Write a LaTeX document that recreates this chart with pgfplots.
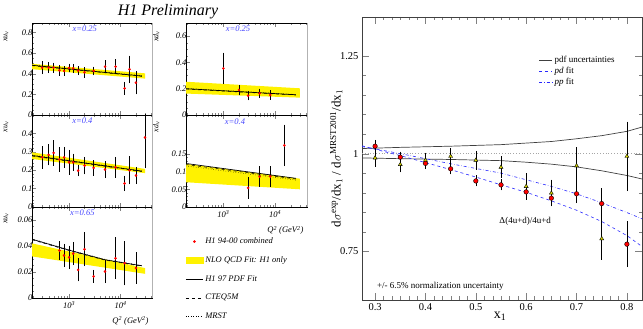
\documentclass[border=0pt]{standalone}
\usepackage{fontspec}
\setmainfont{Liberation Serif}
\usepackage{pgfplots}
\pgfplotsset{compat=1.18}
\definecolor{lblue}{RGB}{70,70,255}
\definecolor{triy}{RGB}{220,220,0}
\definecolor{fitblue}{RGB}{40,40,255}
\begin{document}
\begin{tikzpicture}
\useasboundingbox (0pt,0pt) rectangle (643pt,329pt);
% ---------------- panel 1: xu_v, x=0.25
\begin{axis}[at={(32pt,214pt)}, anchor=south west, scale only axis, width=120pt, height=92pt,
    xmode=log, xmin=190, xmax=41000,
    xtick={1000,10000}, xticklabels={},
    minor xtick={200,300,400,500,600,700,800,900,2000,3000,4000,5000,6000,7000,8000,9000,20000,30000,40000},
    tick align=inside, ytick pos=left,
    major tick length=4pt, minor tick length=2pt,
    scaled y ticks=false,
    /pgf/number format/assume math mode=true,
    yticklabel style={/pgf/number format/fixed, /pgf/number format/precision=2, xshift=4pt},
    tick label style={font=\fontsize{8.5}{10}\selectfont\itshape},
    ylabel style={at={(axis description cs:-0.167,0.95)}, anchor=south east},
    ylabel={\fontsize{8}{10}\selectfont\itshape xu\textsubscript{v}},
    ymin=0, ymax=0.89, ytick={0,0.2,0.4,0.6,0.8}, minor y tick num=3]
\addplot[fill=yellow, draw=none] coordinates {(190,0.443) (30000,0.352) (30000,0.403) (190,0.495) (190,0.443)};
\addplot[black, line width=0.7pt] coordinates {(190,0.481) (26000,0.377)};
\addplot[black, dashed, line width=0.5pt] coordinates {(190,0.477) (26000,0.374)};
\addplot[black, dotted, line width=0.5pt] coordinates {(190,0.485) (26000,0.380)};
\addplot[only marks, mark=*, mark size=1.1pt, red,
    error bars/.cd, y dir=both, y explicit,
    error bar style={black, line width=0.5pt},
    error mark options={black, mark size=1.3pt, line width=0.5pt}] coordinates {
(300,0.458) +- (0,0.05)
(400,0.458) +- (0,0.04)
(500,0.458) +- (0,0.035)
(650,0.432) +- (0,0.04)
(800,0.426) +- (0,0.035)
(1000,0.455) +- (0,0.03)
(1200,0.452) +- (0,0.03)
(1500,0.429) +- (0,0.03)
(2000,0.413) +- (0,0.04)
(3000,0.426) +- (0,0.03)
(5000,0.468) +- (0,0.05)
(8000,0.468) +- (0,0.06)
(12000,0.258) +- (0,0.05)
(15000,0.442) +- (0,0.12)
(20000,0.313) +- (0,0.10)
};
\node[font=\fontsize{8.5}{10}\selectfont\itshape, text=lblue] at (rel axis cs:0.44,0.94) {x=0.25};
\end{axis}
% ---------------- panel 2: xu_v, x=0.4
\begin{axis}[at={(32pt,122pt)}, anchor=south west, scale only axis, width=120pt, height=92pt,
    xmode=log, xmin=190, xmax=41000,
    xtick={1000,10000}, xticklabels={},
    minor xtick={200,300,400,500,600,700,800,900,2000,3000,4000,5000,6000,7000,8000,9000,20000,30000,40000},
    tick align=inside, ytick pos=left,
    major tick length=4pt, minor tick length=2pt,
    scaled y ticks=false,
    /pgf/number format/assume math mode=true,
    yticklabel style={/pgf/number format/fixed, /pgf/number format/precision=2, xshift=4pt},
    tick label style={font=\fontsize{8.5}{10}\selectfont\itshape},
    ylabel style={at={(axis description cs:-0.167,0.97)}, anchor=south east},
    ylabel={\fontsize{8}{10}\selectfont\itshape xu\textsubscript{v}},
    ymin=0, ymax=0.5, ytick={0,0.1,0.2,0.3,0.4}, minor y tick num=4]
\addplot[fill=yellow, draw=none] coordinates {(190,0.261) (30000,0.184) (30000,0.207) (190,0.297) (190,0.261)};
\addplot[black, line width=0.7pt] coordinates {(190,0.280) (26000,0.195)};
\addplot[black, dashed, line width=0.5pt] coordinates {(190,0.277) (26000,0.193)};
\addplot[black, dotted, line width=0.5pt] coordinates {(190,0.283) (26000,0.197)};
\addplot[only marks, mark=*, mark size=1.1pt, red,
    error bars/.cd, y dir=both, y explicit,
    error bar style={black, line width=0.5pt},
    error mark options={black, mark size=1.3pt, line width=0.5pt}] coordinates {
(300,0.270) +- (0,0.054)
(400,0.283) +- (0,0.05)
(500,0.294) +- (0,0.063)
(650,0.258) +- (0,0.06)
(800,0.270) +- (0,0.05)
(1000,0.243) +- (0,0.06)
(1200,0.243) +- (0,0.04)
(1500,0.198) +- (0,0.025)
(2000,0.225) +- (0,0.04)
(3000,0.213) +- (0,0.035)
(5000,0.204) +- (0,0.04)
(8000,0.216) +- (0,0.05)
(12000,0.128) +- (0,0.035)
(15000,0.200) +- (0,0.07)
(20000,0.171) +- (0,0.04)
(30000,0.378) +- (0,0.16)
};
\node[font=\fontsize{8.5}{10}\selectfont\itshape, text=lblue] at (rel axis cs:0.42,0.94) {x=0.4};
\end{axis}
% ---------------- panel 3: xu_v, x=0.65
\begin{axis}[at={(32pt,31pt)}, anchor=south west, scale only axis, width=120pt, height=91pt,
    xmode=log, xmin=190, xmax=41000,
    xtick={1000,10000}, xticklabels={{10\textsuperscript{3}},{10\textsuperscript{4}}},
    minor xtick={200,300,400,500,600,700,800,900,2000,3000,4000,5000,6000,7000,8000,9000,20000,30000,40000},
    tick align=inside, ytick pos=left,
    major tick length=4pt, minor tick length=2pt,
    scaled y ticks=false,
    /pgf/number format/assume math mode=true,
    yticklabel style={/pgf/number format/fixed, /pgf/number format/precision=2, xshift=4pt},
    tick label style={font=\fontsize{8.5}{10}\selectfont\itshape},
    ylabel style={at={(axis description cs:-0.167,0.97)}, anchor=south east},
    ylabel={\fontsize{8}{10}\selectfont\itshape xu\textsubscript{v}},
    xlabel style={at={(axis description cs:1,-0.17)}, anchor=north east},
    xlabel={\fontsize{8.5}{10}\selectfont\itshape Q\textsuperscript{2} (GeV\textsuperscript{2})},
    ymin=0, ymax=0.07, ytick={0,0.02,0.04,0.06}, minor y tick num=3]
\addplot[fill=yellow, draw=none] coordinates {(190,0.032) (30000,0.0186) (30000,0.023) (190,0.042) (190,0.032)};
\addplot[black, line width=0.7pt] coordinates {(190,0.0452) (1000,0.0368) (5000,0.0294) (26000,0.0248)};
\addplot[black, dashed, line width=0.5pt] coordinates {(190,0.0448) (1000,0.0365) (5000,0.0291) (26000,0.0245)};
\addplot[black, dotted, line width=0.5pt] coordinates {(190,0.0456) (1000,0.0371) (5000,0.0297) (26000,0.0251)};
\addplot[only marks, mark=*, mark size=1.1pt, red,
    error bars/.cd, y dir=both, y explicit,
    error bar style={black, line width=0.5pt},
    error mark options={black, mark size=1.3pt, line width=0.5pt}] coordinates {
(650,0.0365) +- (0,0.006)
(800,0.0327) +- (0,0.008)
(1000,0.0312) +- (0,0.008)
(1200,0.0342) +- (0,0.008)
(1500,0.0217) +- (0,0.008)
(2000,0.0375) +- (0,0.012)
(3000,0.0166) +- (0,0.004)
(5000,0.0204) +- (0,0.008)
(8000,0.0306) +- (0,0.015)
(12000,0.0268) +- (0,0.016)
(20000,0.0230) +- (0,0.011)
};
\node[font=\fontsize{8.5}{10}\selectfont\itshape, text=lblue] at (rel axis cs:0.42,0.94) {x=0.65};
\end{axis}
% ---------------- panel 4: xd_v, x=0.25
\begin{axis}[at={(186pt,214pt)}, anchor=south west, scale only axis, width=121pt, height=92pt,
    xmode=log, xmin=190, xmax=41000,
    xtick={1000,10000}, xticklabels={},
    minor xtick={200,300,400,500,600,700,800,900,2000,3000,4000,5000,6000,7000,8000,9000,20000,30000,40000},
    tick align=inside, ytick pos=left,
    major tick length=4pt, minor tick length=2pt,
    scaled y ticks=false,
    /pgf/number format/assume math mode=true,
    yticklabel style={/pgf/number format/fixed, /pgf/number format/precision=2, xshift=4pt},
    tick label style={font=\fontsize{8.5}{10}\selectfont\itshape},
    ylabel style={at={(axis description cs:-0.19,0.95)}, anchor=south east},
    ylabel={\fontsize{8}{10}\selectfont\itshape xd\textsubscript{v}},
    ymin=0, ymax=0.7, ytick={0,0.2,0.4,0.6}, minor y tick num=3]
\addplot[fill=yellow, draw=none] coordinates {(190,0.163) (30000,0.132) (30000,0.203) (190,0.253) (190,0.163)};
\addplot[black, line width=0.7pt] coordinates {(190,0.200) (25000,0.154)};
\addplot[black, dashed, line width=0.5pt] coordinates {(190,0.197) (25000,0.152)};
\addplot[black, dotted, line width=0.5pt] coordinates {(190,0.203) (25000,0.156)};
\addplot[only marks, mark=*, mark size=1.1pt, red,
    error bars/.cd, y dir=both, y explicit,
    error bar style={black, line width=0.5pt},
    error mark options={black, mark size=1.3pt, line width=0.5pt}] coordinates {
(1000,0.354) +- (0,0.11)
(2000,0.190) +- (0,0.03)
(3000,0.147) +- (0,0.025)
(5000,0.165) +- (0,0.025)
(8000,0.152) +- (0,0.025)
};
\node[font=\fontsize{8.5}{10}\selectfont\itshape, text=lblue] at (rel axis cs:0.43,0.94) {x=0.25};
\end{axis}
% ---------------- panel 5: xd_v, x=0.4
\begin{axis}[at={(186pt,122pt)}, anchor=south west, scale only axis, width=121pt, height=92pt,
    xmode=log, xmin=190, xmax=41000,
    xtick={1000,10000}, xticklabels={{10\textsuperscript{3}},{10\textsuperscript{4}}},
    minor xtick={200,300,400,500,600,700,800,900,2000,3000,4000,5000,6000,7000,8000,9000,20000,30000,40000},
    tick align=inside, ytick pos=left,
    major tick length=4pt, minor tick length=2pt,
    scaled y ticks=false,
    /pgf/number format/assume math mode=true,
    yticklabel style={/pgf/number format/fixed, /pgf/number format/precision=2, xshift=4pt},
    tick label style={font=\fontsize{8.5}{10}\selectfont\itshape},
    ylabel style={at={(axis description cs:-0.19,0.97)}, anchor=south east},
    ylabel={\fontsize{8}{10}\selectfont\itshape xd\textsubscript{v}},
    xlabel style={at={(axis description cs:1,-0.17)}, anchor=north east},
    xlabel={\fontsize{8.5}{10}\selectfont\itshape Q\textsuperscript{2} (GeV\textsuperscript{2})},
    ymin=0, ymax=0.26, ytick={0,0.05,0.1,0.15}, minor y tick num=4,
    legend style={at={(axis description cs:-0.03,-0.29)}, anchor=north west, draw=none, fill=none,
      font=\fontsize{8.5}{10}\selectfont\itshape, row sep=7.5pt},
    legend cell align=left]
\addplot[fill=yellow, draw=none, forget plot] coordinates {(190,0.070) (30000,0.050) (30000,0.080) (190,0.122) (190,0.070)};
\addplot[black, line width=0.7pt, forget plot] coordinates {(190,0.123) (25000,0.081)};
\addplot[black, dashed, line width=0.5pt, forget plot] coordinates {(190,0.120) (25000,0.079)};
\addplot[black, dotted, line width=0.5pt, forget plot] coordinates {(190,0.116) (25000,0.076)};
\addplot[only marks, mark=*, mark size=1.1pt, red, forget plot,
    error bars/.cd, y dir=both, y explicit,
    error bar style={black, line width=0.5pt},
    error mark options={black, mark size=1.3pt, line width=0.5pt}] coordinates {
(3000,0.054) +- (0,0.027)
(5000,0.086) +- (0,0.025)
(8000,0.086) +- (0,0.025)
(15000,0.174) +- (0,0.055)
};
\node[font=\fontsize{8.5}{10}\selectfont\itshape, text=lblue] at (rel axis cs:0.405,0.93) {x=0.4};
\addlegendimage{only marks, mark=*, mark size=1.1pt, red}
\addlegendentry{H1 94-00 combined}
\addlegendimage{area legend, fill=yellow, draw=yellow}
\addlegendentry{NLO QCD Fit: H1 only}
\addlegendimage{black, line width=0.7pt}
\addlegendentry{H1 97 PDF Fit}
\addlegendimage{black, dashed, line width=0.5pt}
\addlegendentry{CTEQ5M}
\addlegendimage{black, dotted, line width=0.5pt}
\addlegendentry{MRST}
\end{axis}
\draw[gray!60, line width=1.3pt] (152.6pt,31pt) -- (152.6pt,306pt);
\draw[gray!60, line width=1.3pt] (307.6pt,122pt) -- (307.6pt,306pt);
\node[font=\fontsize{16}{18}\selectfont\itshape] at (168pt,317pt) {H1 Preliminary};
% ---------------- right plot
\begin{axis}[scale only axis, width=280pt, height=283pt, at={(362pt,29pt)}, anchor=south west,
  xmin=0.274, xmax=0.83, ymin=0.625, ymax=1.35,
  xtick={0.3,0.4,0.5,0.6,0.7,0.8}, ytick={0.75,1,1.25},
  minor x tick num=5, minor y tick num=4,
  tick align=inside,
  major tick length=7pt, minor tick length=3.5pt,
  axis line style={black!75, line width=0.8pt},
  /pgf/number format/assume math mode=true,
  tick label style={font=\fontsize{10.5}{12}\selectfont},
  xlabel style={at={(axis description cs:0.493,-0.03)}, anchor=north},
  xlabel={\fontsize{14}{16}\selectfont x\textsubscript{1}},
  ylabel style={at={(axis description cs:-0.092,0.5)}, anchor=center},
  ylabel={\fontsize{13}{15}\selectfont d$\sigma^{\mathrm{exp}}$/dx$_1$ / d$\sigma^{\mathrm{MRST2001}}$/dx$_1$},
  legend style={at={(axis description cs:0.62,0.875)}, anchor=north west, draw=none, fill=none,
    font=\fontsize{9}{10}\selectfont, row sep=-1pt},
  legend cell align=left,
  legend image code/.code={\draw[#1] (0pt,0pt) -- (13pt,0pt);},
]
\addplot[gray!70, dotted, line width=0.8pt, forget plot] coordinates {(0.274,1) (0.83,1)};
\addplot[black!75, line width=0.7pt, forget plot] coordinates {(0.274,1.013) (0.35,1.016) (0.45,1.019) (0.55,1.023) (0.6,1.027) (0.65,1.031) (0.7,1.038) (0.75,1.046) (0.8,1.057) (0.83,1.068)};
\addplot[black!75, line width=0.7pt, forget plot] coordinates {(0.274,0.989) (0.35,0.987) (0.45,0.985) (0.55,0.982) (0.6,0.978) (0.65,0.973) (0.7,0.966) (0.75,0.956) (0.8,0.944) (0.83,0.935)};
\addplot[fitblue, dashed, line width=0.6pt, forget plot] coordinates {(0.274,1.020) (0.3,1.011) (0.35,0.995) (0.4,0.977) (0.45,0.959) (0.5,0.940) (0.55,0.920) (0.6,0.901) (0.65,0.879) (0.7,0.855) (0.75,0.826) (0.8,0.790) (0.83,0.762)};
\addplot[fitblue, dash dot, line width=0.6pt, forget plot] coordinates {(0.274,1.018) (0.3,1.012) (0.35,1.000) (0.4,0.987) (0.45,0.974) (0.5,0.962) (0.55,0.950) (0.6,0.933) (0.65,0.916) (0.7,0.897) (0.75,0.874) (0.8,0.849) (0.83,0.833)};
\addplot[only marks, mark=triangle*, mark size=2.3pt, mark options={fill=triy, draw=black, line width=0.4pt}, forget plot,
  error bars/.cd, y dir=both, y explicit,
  error bar style={black, line width=0.6pt},
  error mark options={black, mark size=1.6pt, line width=0.6pt}] coordinates {
(0.3,0.989) +- (0,0.018)
(0.35,0.972) +- (0,0.016)
(0.4,0.983) +- (0,0.015)
(0.45,0.993) +- (0,0.017)
(0.5,0.983) +- (0,0.02)
(0.55,0.965) +- (0,0.024)
(0.6,0.916) +- (0,0.03)
(0.65,0.899) +- (0,0.03)
(0.7,0.969) +- (0,0.043)
(0.75,0.782) +- (0,0.05)
(0.8,0.993) +- (0,0.085)
};
\addplot[only marks, mark=*, mark size=2.3pt, mark options={fill=red, draw=black, line width=0.4pt}, forget plot,
  error bars/.cd, y dir=both, y explicit,
  error bar style={black, line width=0.6pt},
  error mark options={black, mark size=1.6pt, line width=0.6pt}] coordinates {
(0.3,1.019) +- (0,0.012)
(0.35,0.991) +- (0,0.01)
(0.4,0.975) +- (0,0.01)
(0.45,0.961) +- (0,0.01)
(0.5,0.930) +- (0,0.01)
(0.55,0.920) +- (0,0.01)
(0.6,0.902) +- (0,0.012)
(0.65,0.886) +- (0,0.015)
(0.7,0.897) +- (0,0.02)
(0.75,0.872) +- (0,0.035)
(0.8,0.768) +- (0,0.055)
};
\node[anchor=west, font=\fontsize{9}{10}\selectfont] at (axis cs:0.54,0.826) {Δ(4u+d)/4u+d};
\node[anchor=west, font=\fontsize{9}{10}\selectfont] at (axis cs:0.297,0.659) {+/- 6.5\% normalization uncertainty};
\addlegendimage{black!75, line width=0.7pt}
\addlegendentry{pdf uncertainties}
\addlegendimage{fitblue, dashed, line width=0.6pt}
\addlegendentry{\textit{pd} fit}
\addlegendimage{fitblue, dash dot, line width=0.6pt}
\addlegendentry{\textit{pp} fit}
\end{axis}
\end{tikzpicture}
\end{document}
